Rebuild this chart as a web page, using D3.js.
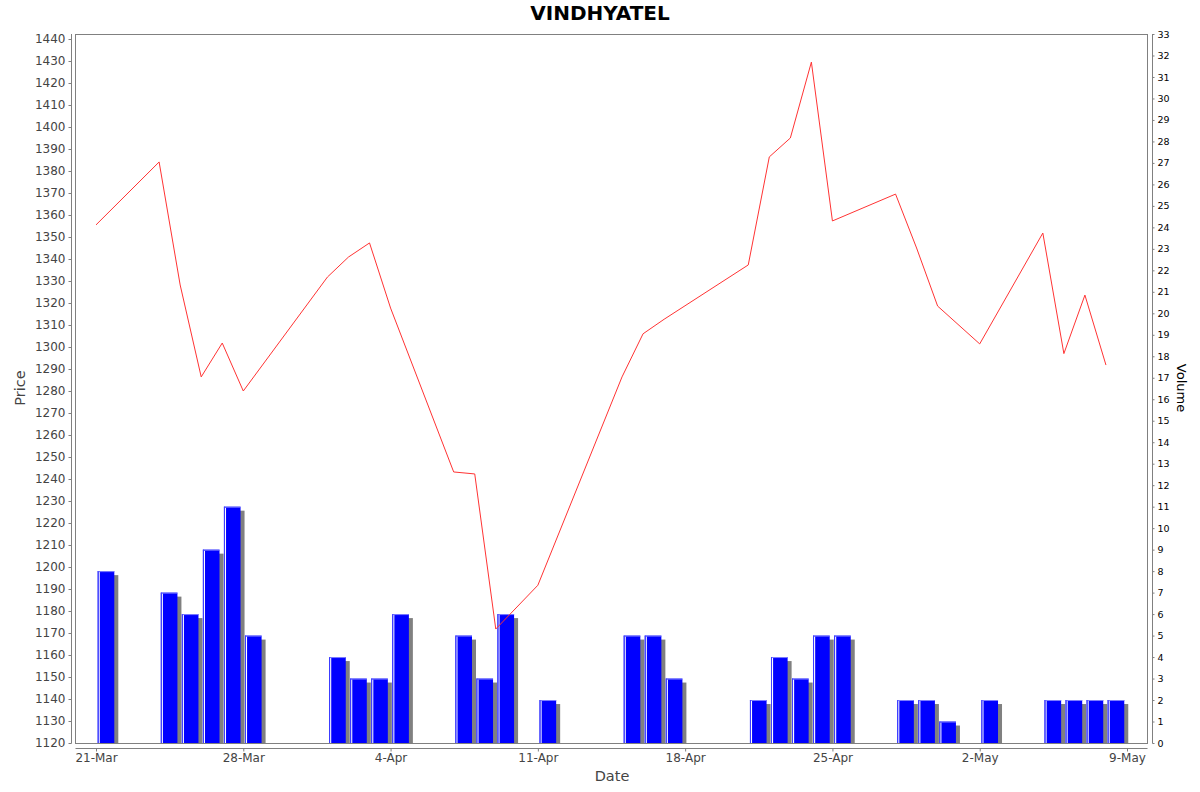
<!DOCTYPE html>
<html>
<head>
<meta charset="utf-8">
<script src="https://cdn.jsdelivr.net/npm/d3@7"></script>
<style>
  body { margin: 0; background: #fff; }
  svg { display: block; font-family: "DejaVu Sans", sans-serif; }
</style>
</head>
<body>
<svg id="chart" width="1200" height="792"></svg>
<script>
const dates = ["2025-03-21","2025-03-24","2025-03-25","2025-03-26","2025-03-27","2025-03-28",
  "2025-04-01","2025-04-02","2025-04-03","2025-04-04","2025-04-07","2025-04-08","2025-04-09",
  "2025-04-11","2025-04-15","2025-04-16","2025-04-17","2025-04-21","2025-04-22","2025-04-23",
  "2025-04-24","2025-04-25","2025-04-28","2025-04-29","2025-04-30","2025-05-02","2025-05-05",
  "2025-05-06","2025-05-07","2025-05-08"];
const prices = [1355.5,1384.1,1328.2,1286.4,1301.8,1280.0,
  1331.8,1340.9,1347.3,1317.7,1243.2,1242.3,1171.8,
  1191.7,1286.4,1306.0,1312.6,1337.3,1386.4,1395.0,
  1429.5,1357.3,1369.5,1345.0,1318.6,1301.4,1351.8,
  1297.0,1323.6,1291.8];
const volumes = [8,7,6,9,11,5,
  4,3,3,6,5,3,6,
  2,5,5,3,2,4,3,
  5,5,2,2,1,2,2,
  2,2,2];
const priceTicks = d3.range(1120, 1441, 10);
const volumeTicks = d3.range(0, 34, 1);
const dateTicks = ["2025-03-21","2025-03-28","2025-04-04","2025-04-11","2025-04-18","2025-04-25","2025-05-02","2025-05-09"];
const title = "VINDHYATEL";

const parse = d3.utcParse("%Y-%m-%d");
const fmt = d3.utcFormat("%-d-%b");
const data = dates.map((d, i) => ({ date: parse(d), price: prices[i], volume: volumes[i] }));

const L = 75.5, R = 1147.5, T = 34.5, B = 743.5;
const svg = d3.select("#chart");

const x = d3.scaleUtc()
  .domain([parse("2025-03-21"), parse("2025-05-09")])
  .range([96, 1127]);
const yP = d3.scaleLinear().domain([1120, 1440]).range([743, 39]);
const yV = d3.scaleLinear().domain([0, 33]).range([743, 34]);

// title
svg.append("text").attr("x", 600).attr("y", 20).attr("text-anchor", "middle")
  .attr("font-size", 20).attr("font-weight", "bold").attr("fill", "#000").text(title);

// clip
svg.append("clipPath").attr("id", "clip").append("rect")
  .attr("x", L).attr("y", T).attr("width", R - L).attr("height", B - T);

const plot = svg.append("g").attr("clip-path", "url(#clip)");

const day = 86400000;
const bw = d => x(new Date(d.date.getTime() + day)) - x(d.date);

// shadows
plot.selectAll("rect.shadow").data(data).join("rect")
  .attr("class", "shadow")
  .attr("x", d => x(d.date) + 0.08 * bw(d) + 4)
  .attr("y", d => yV(d.volume) + 4)
  .attr("width", d => 0.79 * bw(d))
  .attr("height", d => B - yV(d.volume))
  .attr("fill", "#808080");

// bars
plot.selectAll("rect.bar").data(data).join("rect")
  .attr("class", "bar")
  .attr("x", d => x(d.date) + 0.08 * bw(d))
  .attr("y", d => yV(d.volume))
  .attr("width", d => 0.79 * bw(d))
  .attr("height", d => yV(0) - yV(d.volume))
  .attr("fill", "#0000ff");
// highlight white stripe
plot.selectAll("line.hl").data(data).join("line")
  .attr("class", "hl")
  .attr("x1", d => x(d.date) + 0.08 * bw(d) + 1.5)
  .attr("x2", d => x(d.date) + 0.08 * bw(d) + 1.5)
  .attr("y1", d => yV(d.volume) + 1)
  .attr("y2", d => yV(0))
  .attr("stroke", "#ffffff").attr("stroke-width", 1.2);
// top light edge
plot.selectAll("line.top").data(data).join("line")
  .attr("class", "top")
  .attr("x1", d => x(d.date) + 0.08 * bw(d))
  .attr("x2", d => x(d.date) + 0.87 * bw(d))
  .attr("y1", d => yV(d.volume) + 0.5)
  .attr("y2", d => yV(d.volume) + 0.5)
  .attr("stroke", "#7f7fff").attr("stroke-width", 1);
plot.selectAll("line.lft").data(data).join("line")
  .attr("class", "lft")
  .attr("x1", d => x(d.date) + 0.08 * bw(d) + 0.5)
  .attr("x2", d => x(d.date) + 0.08 * bw(d) + 0.5)
  .attr("y1", d => yV(d.volume))
  .attr("y2", d => yV(0))
  .attr("stroke", "#4040ff").attr("stroke-width", 1);

// price line
plot.append("path").datum(data)
  .attr("fill", "none").attr("stroke", "#ff3333").attr("stroke-width", 1)
  .attr("d", d3.line().x(d => x(d.date)).y(d => yP(d.price)));

// frame
svg.append("rect").attr("x", L).attr("y", T).attr("width", R - L).attr("height", B - T)
  .attr("fill", "none").attr("stroke", "#808080").attr("stroke-width", 1);

// left axis
const gl = svg.append("g").attr("transform", "translate(71.5,0)")
  .call(d3.axisLeft(yP).tickValues(priceTicks).tickSize(3).tickPadding(3).tickFormat(d3.format("d")));
gl.select(".domain").attr("stroke", "#808080").attr("d", `M0,${T - 0.5}V${B}`);
gl.selectAll(".tick line").attr("stroke", "#808080");
gl.selectAll(".tick text").attr("fill", "#444").attr("font-size", 12).attr("font-family", "DejaVu Sans");

// right axis
const gr = svg.append("g").attr("transform", "translate(1152.5,0)")
  .call(d3.axisRight(yV).tickValues(volumeTicks).tickSize(2).tickPadding(3).tickFormat(d3.format("d")));
gr.select(".domain").attr("stroke", "#808080").attr("d", `M0,${T - 0.5}V${B}`);
gr.selectAll(".tick line").attr("stroke", "#808080");
gr.selectAll(".tick text").attr("fill", "#000").attr("font-size", 9.5).attr("font-family", "DejaVu Sans");

// bottom axis
const gb = svg.append("g").attr("transform", "translate(0,748.5)")
  .call(d3.axisBottom(x).tickValues(dateTicks.map(parse)).tickSize(3).tickPadding(2).tickFormat(fmt));
gb.select(".domain").attr("stroke", "#808080").attr("d", `M${L},0H${R}`);
gb.selectAll(".tick line").attr("stroke", "#808080");
gb.selectAll(".tick text").attr("fill", "#444").attr("font-size", 12).attr("font-family", "DejaVu Sans");

// axis titles
svg.append("text").attr("x", 612).attr("y", 781).attr("text-anchor", "middle")
  .attr("font-size", 14.5).attr("fill", "#444").text("Date");
svg.append("text").attr("transform", "translate(25,388) rotate(-90)").attr("text-anchor", "middle")
  .attr("font-size", 14.5).attr("fill", "#444").text("Price");
svg.append("text").attr("transform", "translate(1177,388) rotate(90)").attr("text-anchor", "middle")
  .attr("font-size", 13).attr("fill", "#000").text("Volume");
</script>
</body>
</html>
